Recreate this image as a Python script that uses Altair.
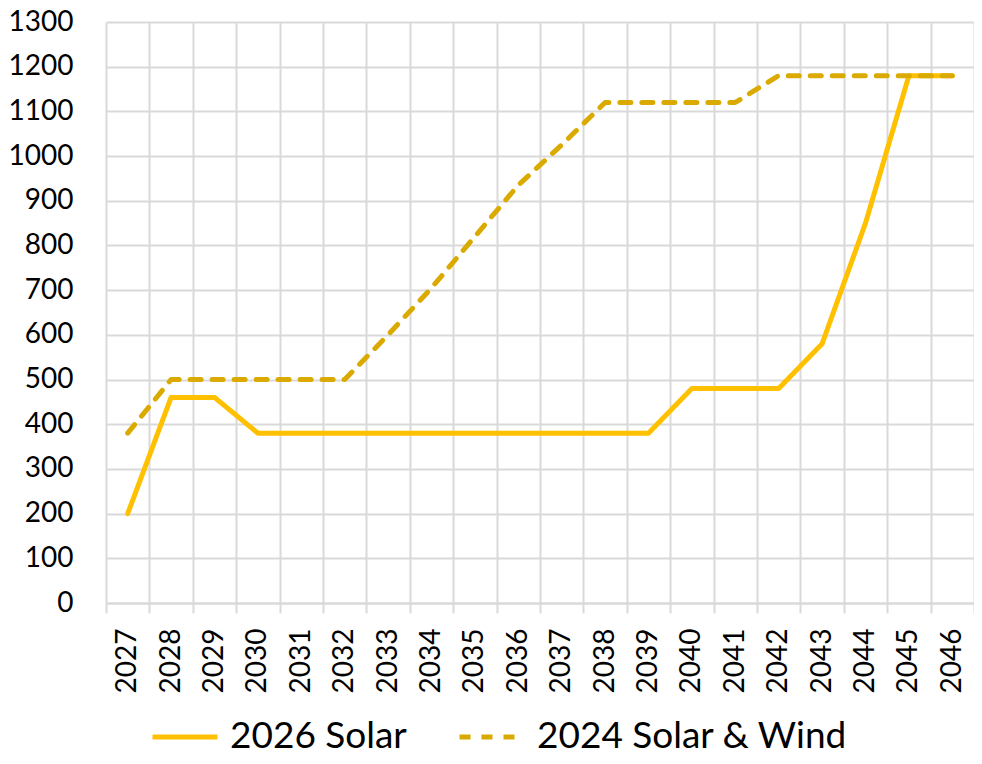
import altair as alt
import pandas as pd

years = ["2027", "2028", "2029", "2030", "2031", "2032", "2033", "2034", "2035", "2036",
         "2037", "2038", "2039", "2040", "2041", "2042", "2043", "2044", "2045", "2046"]
solar_2026 = [200, 460, 460, 380, 380, 380, 380, 380, 380, 380,
              380, 380, 380, 480, 480, 480, 580, 850, 1180, 1180]
solar_wind_2024 = [380, 500, 500, 500, 500, 500, 600, 705, 820, 935,
                   1025, 1120, 1120, 1120, 1120, 1180, 1180, 1180, 1180, 1180]
series_names = ["2026 Solar", "2024 Solar & Wind"]
series_colors = ["#FFC000", "#DAAA00"]
y_ticks = [0, 100, 200, 300, 400, 500, 600, 700, 800, 900, 1000, 1100, 1200, 1300]

rows = []
for name, vals in zip(series_names, [solar_2026, solar_wind_2024]):
    for yr, v in zip(years, vals):
        rows.append({"year": yr, "value": v, "series": name})
df = pd.DataFrame(rows)

font = "Lato"
grid = "#D9D9D9"

legend = alt.Legend(
    title=None, orient="none", legendX=44, legendY=680, direction="horizontal",
    symbolType="stroke", symbolSize=4225, symbolStrokeWidth=5,
    labelFont=font, labelFontSize=37, labelColor="black", labelOffset=10,
    columnPadding=42, labelLimit=0,
)

chart = alt.Chart(df).mark_line(strokeWidth=5, strokeCap="round", strokeJoin="round").encode(
    x=alt.X("year:O", sort=years,
            scale=alt.Scale(type="band", paddingInner=0, paddingOuter=0),
            axis=alt.Axis(title=None, tickBand="extent", labelAngle=270, grid=True,
                          gridColor=grid, gridWidth=2, domainColor=grid, domainWidth=2,
                          tickColor=grid, tickWidth=2, tickSize=10, labelPadding=15,
                          labelFont=font, labelFontSize=28, labelColor="black")),
    y=alt.Y("value:Q", scale=alt.Scale(domain=[0, 1300], nice=False),
            axis=alt.Axis(title=None, values=y_ticks, format="d", ticks=False, domain=False,
                          gridColor=grid, gridWidth=2, labelPadding=33,
                          labelFont=font, labelFontSize=28, labelColor="black")),
    color=alt.Color("series:N", scale=alt.Scale(domain=series_names, range=series_colors), legend=legend),
    strokeDash=alt.StrokeDash("series:N", scale=alt.Scale(domain=series_names, range=[[1, 0], [11, 11]]), legend=legend),
).properties(
    width=868, height=581,
    autosize=alt.AutoSizeParams(type="none"),
    padding={"left": 98, "top": 14, "right": 0, "bottom": 153},
).configure_view(stroke=None)

chart.save("out.html", embed_options={"renderer": "svg", "actions": False})
